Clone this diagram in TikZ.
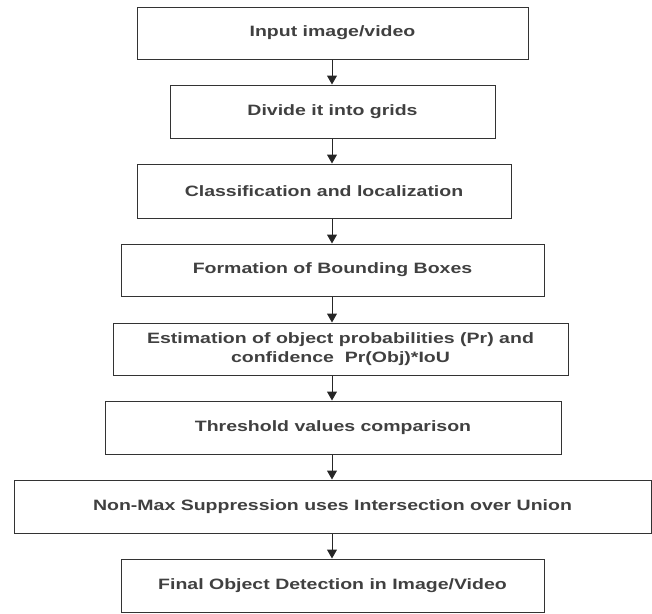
\documentclass[tikz,border=0pt]{standalone}
\usepackage{fontspec}
\setmainfont{Liberation Sans}[FakeStretch=1.3]
\usetikzlibrary{arrows.meta}
\begin{document}
\begin{tikzpicture}[x=1pt,y=-1pt,
  box/.style={draw=black!80, line width=1pt, rectangle, inner sep=0pt, align=center,
    text=black!75, font=\fontsize{15}{19}\selectfont\bfseries},
  arr/.style={draw=black!85, line width=1pt, -{Triangle[width=10pt,length=9pt]}}
]
\useasboundingbox (0,0) rectangle (652,613);
\node[box, minimum width=391pt, minimum height=52pt] (b1) at (332.5,33) {Input image/video};
\node[box, minimum width=325pt, minimum height=53pt] (b2) at (332.5,111.5) {Divide it into grids};
\node[box, minimum width=374pt, minimum height=54pt] (b3) at (324,191) {Classification and localization};
\node[box, minimum width=423pt, minimum height=52pt] (b4) at (332.5,270) {Formation of Bounding Boxes};
\node[box, minimum width=455pt, minimum height=52pt] (b5) at (340.5,349) {Estimation of object probabilities (Pr) and\\confidence~~Pr(Obj)*IoU};
\node[box, minimum width=456pt, minimum height=53pt] (b6) at (333,427.5) {Threshold values comparison};
\node[box, minimum width=637pt, minimum height=53pt] (b7) at (332.5,506.5) {Non-Max Suppression uses Intersection over Union};
\node[box, minimum width=423pt, minimum height=53pt] (b8) at (332.5,585.5) {Final Object Detection in Image/Video};
\coordinate (ax) at (332,0);
\draw[arr] (b1.south -| ax) -- (b2.north -| ax);
\draw[arr] (b2.south -| ax) -- (b3.north -| ax);
\draw[arr] (b3.south -| ax) -- (b4.north -| ax);
\draw[arr] (b4.south -| ax) -- (b5.north -| ax);
\draw[arr] (b5.south -| ax) -- (b6.north -| ax);
\draw[arr] (b6.south -| ax) -- (b7.north -| ax);
\draw[arr] (b7.south -| ax) -- (b8.north -| ax);
\end{tikzpicture}
\end{document}
